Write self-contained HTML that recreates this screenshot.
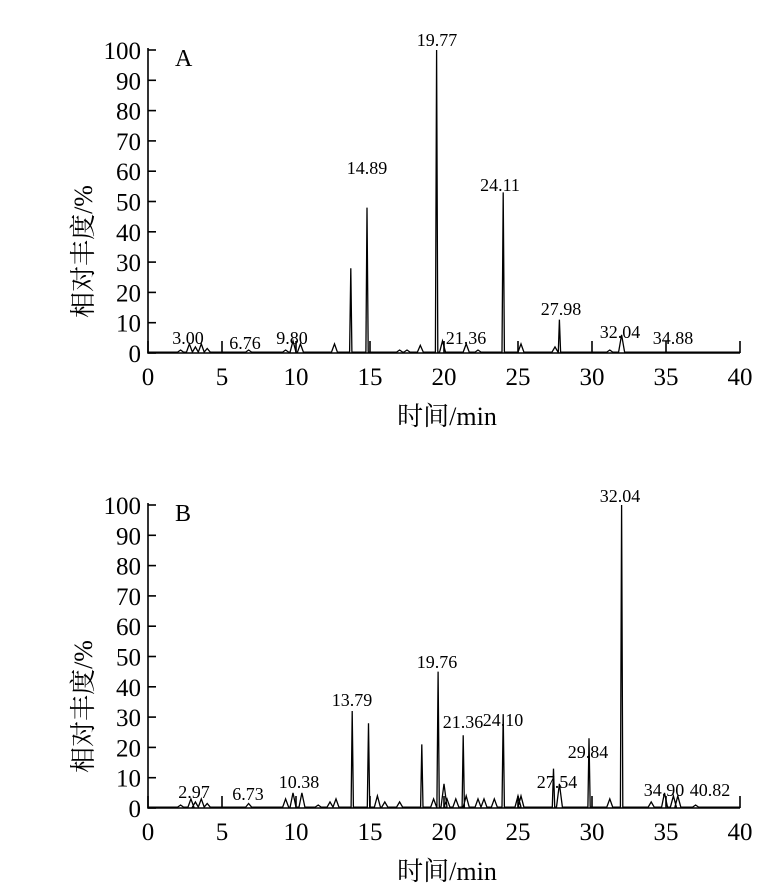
<!DOCTYPE html>
<html><head><meta charset="utf-8"><style>
html,body{margin:0;padding:0;background:#fff;}
svg{display:block;font-family:"Liberation Serif","Noto Serif CJK SC",serif;}
</style></head><body>
<svg id="c" width="779" height="887" viewBox="0 0 779 887"></svg>
<script>
const xTicks=[0,5,10,15,20,25,30,35,40];
const yTicks=[0,10,20,30,40,50,60,70,80,90,100];
const aTimes=[2.2,2.8,3.2,3.6,4.0,6.8,9.3,9.8,10.3,12.6,13.7,14.8,17.0,17.5,18.4,19.5,19.9,21.5,22.3,24.0,25.2,27.5,27.8,31.2,32.0];
const aVals=[1,3,2,3,1.5,1,1,4,3,3,28,48,1,1,2.5,100,4,3,1,53,3,2,11,1,6];
const aLabels=["3.00","6.76","9.80","14.89","19.77","21.36","24.11","27.98","32.04","34.88"];
const aLabelPos=[[188,338],[245,343],[292,338],[367,168],[437,40],[466,338],[500,185],[561,309],[620,332],[673,338]];
const bTimes=[2.2,2.9,3.2,3.6,4.0,6.8,9.3,9.8,10.4,11.5,12.3,12.7,13.8,14.9,15.5,16.0,17.0,18.5,19.3,19.6,20.0,20.2,20.8,21.3,21.5,22.3,22.7,23.4,24.0,25.0,25.2,27.4,27.8,29.8,31.2,32.0,34.0,34.9,35.5,35.8,37.0];
const bVals=[1,3,2,3,1.5,1.5,3,5,5,1,2,3,32,28,4,2,2,21,3,45,8,3,3,24,4,3,3,3,31,4,4,13,8,23,3,100,2,5,4,4,1];
const bLabels=["2.97","6.73","10.38","13.79","19.76","21.36","24.10","27.54","29.84","32.04","34.90","40.82"];
const bLabelPos=[[194,792],[248,794],[299,782],[352,700],[437,662],[463,722],[503,720],[557,782],[588,752],[620,496],[664,790],[710,790]];
const svg=document.getElementById('c');
const NS='http://www.w3.org/2000/svg';
function mk(tag,attrs){const e=document.createElementNS(NS,tag);for(const k in attrs)e.setAttribute(k,attrs[k]);svg.appendChild(e);return e;}
function panel(p,y0,times,vals,labels,labelPos,letter){
  const X=t=>148+t*14.8, Y=v=>y0-v*3.03;
  let pts=[[0,0.3]];
  const idx=times.map((t,i)=>i).sort((a,b)=>times[a]-times[b]);
  idx.forEach(i=>{const t=times[i],w=vals[i]>8?0.08:0.2;pts.push([t-w,0.3],[t,vals[i]],[t+w,0.3]);});
  pts.push([40,0.3]);
  const line=mk('polyline',{points:pts.map(q=>X(q[0]).toFixed(1)+','+Y(q[1]).toFixed(1)).join(' '),fill:'none',stroke:'#000','stroke-width':1.3});
  
  
  const ax=mk('path',{d:`M148,${Y(100)-2}V${y0}H${X(40)}`,stroke:'#000','stroke-width':1.6,fill:'none'});
  
  
  xTicks.forEach(t=>{
    const tk=mk('line',{x1:X(t),x2:X(t),y1:y0,y2:y0-12,stroke:'#000','stroke-width':1.6});
    
    
    const tl=mk('text',{x:X(t),y:y0+32,'font-size':25,'text-anchor':'middle'});tl.textContent=t;
    
    
  });
  yTicks.forEach(v=>{
    const tk=mk('line',{x1:148,x2:156,y1:Y(v),y2:Y(v),stroke:'#000','stroke-width':1.6});
    
    
    const tl=mk('text',{x:141,y:Y(v)+9,'font-size':25,'text-anchor':'end'});tl.textContent=v;
    
    
  });
  labels.forEach((s,i)=>{
    const tl=mk('text',{x:labelPos[i][0],y:labelPos[i][1]+6,'font-size':18,'text-anchor':'middle'});tl.textContent=s;
    
    
  });
  const lt=mk('text',{x:175,y:Y(100)+16,'font-size':24});lt.textContent=letter;
  
  
  const yt=mk('text',{x:0,y:0,'font-size':26,'text-anchor':'middle',transform:`translate(92,${Y(50)+50}) rotate(-90)`});yt.textContent='相对丰度/%';
  
  
  const xt=mk('text',{x:447,y:y0+72,'font-size':26,'text-anchor':'middle'});xt.textContent='时间/min';
  
  
}
panel('panel-a',353,aTimes,aVals,aLabels,aLabelPos,'A');
panel('panel-b',808,bTimes,bVals,bLabels,bLabelPos,'B');
</script>
</body></html>
